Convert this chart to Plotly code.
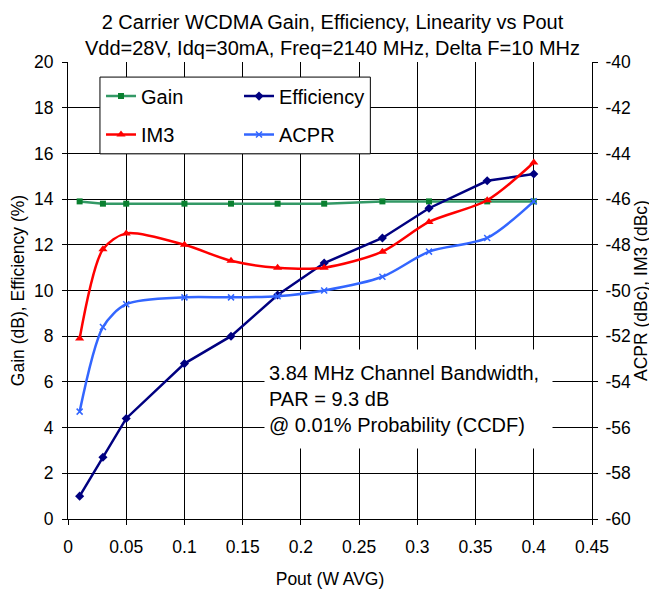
import plotly.graph_objects as go

# ---- data ----
pout = [0.01, 0.03, 0.05, 0.10, 0.14, 0.18, 0.22, 0.27, 0.31, 0.36, 0.40]
gain = [13.9, 13.8, 13.8, 13.8, 13.8, 13.8, 13.8, 13.9, 13.9, 13.9, 13.9]
efficiency = [1.0, 2.7, 4.4, 6.8, 8.0, 9.8, 11.2, 12.3, 13.6, 14.8, 15.1]
im3 = [-52.1, -48.2, -47.5, -48.0, -48.7, -49.0, -49.0, -48.3, -47.0, -46.05, -44.4]
acpr = [-55.3, -51.6, -50.6, -50.3, -50.3, -50.25, -50.0, -49.4, -48.3, -47.7, -46.1]

x_ticks = [0, 0.05, 0.1, 0.15, 0.2, 0.25, 0.3, 0.35, 0.4, 0.45]
x_tick_labels = ["0", "0.05", "0.1", "0.15", "0.2", "0.25", "0.3", "0.35", "0.4", "0.45"]
left_ticks = list(range(0, 21, 2))
right_ticks = list(range(-60, -39, 2))
right_tick_labels = [str(v) for v in right_ticks]

FONT = "Liberation Sans, Arial, sans-serif"
TICK_SIZE = 17.5
W, H = 649, 582  # page body has an 8px margin

fig = go.Figure()
fig.add_trace(go.Scatter(
    x=pout, y=gain, name="Gain", mode="lines+markers",
    line=dict(color="#339966", width=2.5),
    marker=dict(symbol="square", size=6, color="#0A8030"),
    legend="legend"))
fig.add_trace(go.Scatter(
    x=pout, y=efficiency, name="Efficiency", mode="lines+markers",
    line=dict(color="#000080", width=2.5),
    marker=dict(symbol="diamond", size=7, color="#000080"),
    legend="legend"))
fig.add_trace(go.Scatter(
    x=pout, y=im3, name="IM3", mode="lines+markers", yaxis="y2",
    line=dict(color="#FF0000", width=2.5, shape="spline", smoothing=0.8),
    marker=dict(symbol="triangle-up", size=8, color="#FF0000"),
    legend="legend2"))
fig.add_trace(go.Scatter(
    x=pout, y=acpr, name="ACPR", mode="lines+markers", yaxis="y2",
    line=dict(color="#3366FF", width=2.5, shape="spline", smoothing=0.8),
    marker=dict(symbol="x-thin", size=6, color="#3366FF", line=dict(width=1.5, color="#3366FF")),
    legend="legend2"))

axis_common = dict(
    showline=True, linecolor="black", linewidth=1, mirror=False,
    ticks="outside", ticklen=5, tickcolor="black",
    tickfont=dict(family=FONT, size=TICK_SIZE, color="black"),
    zeroline=False, automargin=False,
)

fig.update_layout(
    width=W, height=H,
    margin=dict(l=60, r=65, t=54, b=71),
    paper_bgcolor="white", plot_bgcolor="white",
    font=dict(family=FONT, color="black"),
    title=dict(
        text="2 Carrier WCDMA Gain, Efficiency, Linearity vs Pout<br>Vdd=28V, Idq=30mA, Freq=2140 MHz, Delta F=10 MHz",
        x=0.5, xanchor="center", y=1 - 21 / H, yanchor="middle",
        font=dict(family=FONT, size=20, color="black")),
    xaxis=dict(
        range=[0, 0.45], tickvals=x_ticks, ticktext=x_tick_labels,
        showgrid=True, gridcolor="black", gridwidth=1, ticklabelstandoff=7,
        title=dict(text="Pout (W AVG)", font=dict(family=FONT, size=TICK_SIZE), standoff=16),
        **axis_common),
    yaxis=dict(
        range=[0, 20], tickvals=left_ticks,
        showgrid=True, gridcolor="black", gridwidth=1, ticklabelstandoff=5,
        title=dict(text="Gain (dB), Efficiency (%)", font=dict(family=FONT, size=TICK_SIZE), standoff=7),
        **axis_common),
    yaxis2=dict(
        range=[-60, -40], tickvals=right_ticks, ticktext=right_tick_labels,
        overlaying="y", side="right", showgrid=False, ticklabelstandoff=4,
        title=dict(text="ACPR (dBc), IM3 (dBc)", font=dict(family=FONT, size=TICK_SIZE), standoff=3),
        **axis_common),
    legend=dict(
        orientation="h", x=0.063, y=0.968, xanchor="left", yanchor="top",
        bgcolor="rgba(0,0,0,0)", borderwidth=0, entrywidth=93, entrywidthmode="pixels",
        font=dict(family=FONT, size=20, color="black"), traceorder="normal"),
    legend2=dict(
        orientation="h", x=0.063, y=0.884, xanchor="left", yanchor="top",
        bgcolor="rgba(0,0,0,0)", borderwidth=0, entrywidth=93, entrywidthmode="pixels",
        font=dict(family=FONT, size=20, color="black"), traceorder="normal"),
    shapes=[dict(
        type="rect", xref="paper", yref="paper",
        x0=0.061, x1=0.577, y0=0.799, y1=0.967,
        line=dict(color="black", width=1), fillcolor="white", layer="above")],
    annotations=[dict(
        xref="paper", yref="paper", x=0.6505, y=0.2626, xanchor="center", yanchor="middle",
        text="3.84 MHz Channel Bandwidth,<br>PAR = 9.3 dB<br>@ 0.01% Probability (CCDF)",
        align="left", showarrow=False, bgcolor="white", borderpad=4, width=279, height=90,
        font=dict(family=FONT, size=20, color="black"))],
)

fig.write_html("out.html")
